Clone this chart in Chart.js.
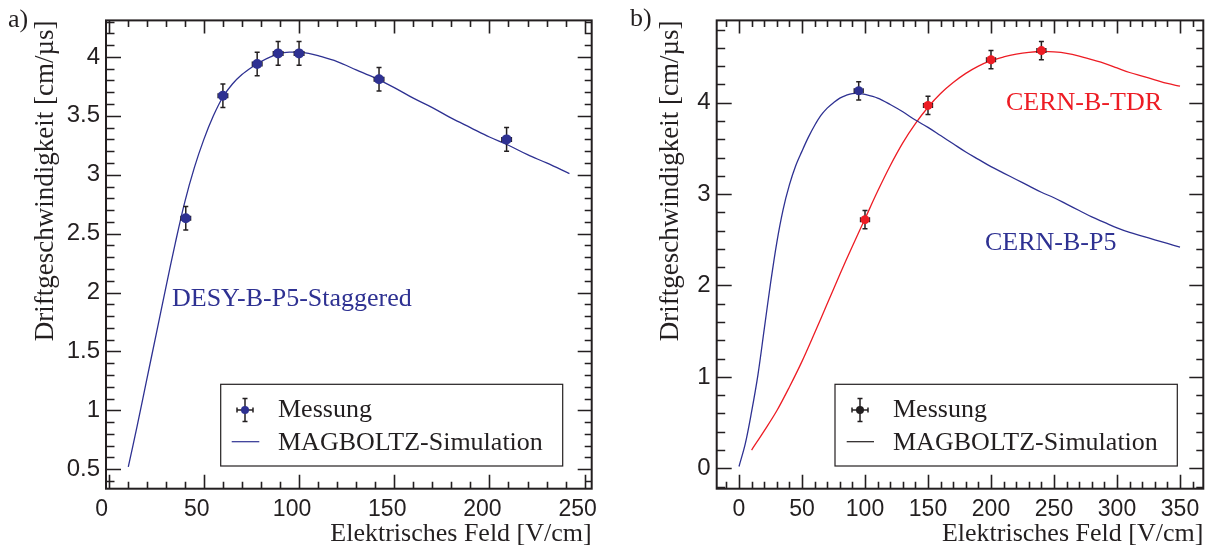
<!DOCTYPE html>
<html>
<head>
<meta charset="utf-8">
<script src="https://cdn.jsdelivr.net/npm/chart.js@4.4.1/dist/chart.umd.min.js"></script>
<style>
  html, body { margin: 0; padding: 0; background: #fff; }
  #wrap { position: relative; width: 1212px; height: 547px; }
  #wrap canvas { position: absolute; left: 0; top: 0; }
</style>
</head>
<body>
<div id="wrap">
  <canvas id="panelA" width="1212" height="547"></canvas>
  <canvas id="panelB" width="1212" height="547"></canvas>
</div>
<script>
const INK = '#231f20';
const BLUE = '#2e3192';
const RED = '#ed1c24';
const SERIF = '"Liberation Serif", "Times New Roman", serif';
const SANS = '"Liberation Sans", Arial, sans-serif';

// a) DESY-B-P5-Staggered
const desyFieldMeas = [40.5, 60, 78, 89, 100, 142, 209];
const desyDriftMeas = [2.63, 3.67, 3.94, 4.03, 4.03, 3.81, 3.30];
const desyFieldErr = [2.5, 2.5, 2.5, 2.5, 2.5, 2.5, 2.5];
const desyDriftErr = [0.1, 0.1, 0.1, 0.1, 0.1, 0.1, 0.1];
const desyFieldSim = [10.3, 15, 20, 25, 30, 35, 40, 45, 50, 55, 60, 65, 70, 75, 80, 85, 90, 95, 100,
  105, 110, 120, 130, 140, 150, 160, 170, 180, 190, 200, 210, 220, 230, 242];
const desyDriftSim = [0.52, 0.87, 1.26, 1.65, 2.04, 2.42, 2.77, 3.06, 3.30, 3.50, 3.66, 3.77, 3.85, 3.91, 3.96, 4.0, 4.03, 4.04, 4.04,
  4.03, 4.01, 3.96, 3.89, 3.82, 3.74, 3.65, 3.57, 3.48, 3.40, 3.32, 3.25, 3.17, 3.10, 3.01];

// b) CERN-B-P5 and CERN-B-TDR
const p5FieldMeas = [95];
const p5DriftMeas = [4.13];
const tdrFieldMeas = [100, 150, 200, 240];
const tdrDriftMeas = [2.72, 3.97, 4.47, 4.57];
const cernFieldErr = [3.5, 3.5, 3.5, 3.5];
const cernDriftErr = [0.1, 0.1, 0.1, 0.1];
const p5FieldSim = [0, 5, 10, 15, 20, 25, 30, 35, 40, 45, 50, 55, 60, 65, 70, 75, 80, 85, 90, 95, 100,
  110, 120, 130, 140, 150, 160, 170, 180, 190, 200, 210, 220, 230, 240, 250, 260, 270, 280, 290, 300,
  310, 320, 330, 340, 350];
const p5DriftSim = [0.02, 0.27, 0.62, 1.02, 1.52, 2.02, 2.47, 2.83, 3.10, 3.31, 3.47, 3.62, 3.75, 3.86, 3.94, 4.0, 4.05, 4.08, 4.10, 4.10, 4.09,
  4.05, 3.98, 3.90, 3.81, 3.73, 3.64, 3.55, 3.46, 3.38, 3.30, 3.23, 3.16, 3.09, 3.02, 2.96, 2.89, 2.82, 2.75, 2.69, 2.63,
  2.58, 2.54, 2.50, 2.46, 2.42];
const tdrFieldSim = [10, 20, 30, 40, 50, 60, 70, 80, 90, 100, 110, 120, 130, 140, 150, 160, 170, 180, 190, 200,
  210, 220, 230, 240, 250, 260, 270, 280, 290, 300, 310, 320, 330, 340, 350];
const tdrDriftSim = [0.2, 0.41, 0.63, 0.89, 1.17, 1.48, 1.80, 2.12, 2.43, 2.73, 3.03, 3.31, 3.56, 3.77, 3.95, 4.10, 4.22, 4.32, 4.40, 4.46,
  4.50, 4.53, 4.55, 4.56, 4.555, 4.54, 4.51, 4.47, 4.43, 4.38, 4.33, 4.29, 4.25, 4.21, 4.18];

const xy = (xs, ys) => xs.map((x, i) => ({ x, y: ys[i] }));

// error bars with small end caps, drawn just before the marker dataset
const errorBars = {
  id: 'errorBars',
  beforeDatasetDraw(chart, args) {
    const ds = chart.data.datasets[args.index];
    if (!ds.errY) return;
    const { ctx, scales: { x, y } } = chart;
    ctx.save();
    ctx.strokeStyle = INK;
    ctx.lineWidth = 1.5;
    ctx.beginPath();
    ds.data.forEach((p, i) => {
      const px = x.getPixelForValue(p.x), py = y.getPixelForValue(p.y);
      const x0 = x.getPixelForValue(p.x - ds.errX[i]), x1 = x.getPixelForValue(p.x + ds.errX[i]);
      const y0 = y.getPixelForValue(p.y - ds.errY[i]), y1 = y.getPixelForValue(p.y + ds.errY[i]);
      ctx.moveTo(x0, py); ctx.lineTo(x1, py);
      ctx.moveTo(px, y0); ctx.lineTo(px, y1);
      ctx.moveTo(px - 2.5, y0); ctx.lineTo(px + 2.5, y0);
      ctx.moveTo(px - 2.5, y1); ctx.lineTo(px + 2.5, y1);
      ctx.moveTo(x0, py - 2.5); ctx.lineTo(x0, py + 2.5);
      ctx.moveTo(x1, py - 2.5); ctx.lineTo(x1, py + 2.5);
    });
    ctx.stroke();
    ctx.restore();
  }
};

// closed frame with inward ticks on all four sides
const axisFrame = {
  id: 'axisFrame',
  afterDatasetsDraw(chart, args, o) {
    const { ctx, chartArea: a, scales: { x, y } } = chart;
    ctx.save();
    ctx.strokeStyle = INK;
    ctx.lineWidth = 1.6;
    ctx.beginPath();
    for (let k = Math.ceil(x.min / o.xMinor); k * o.xMinor <= x.max; k++) {
      const major = k % o.xEvery === 0;
      const px = Math.round(x.getPixelForValue(k * o.xMinor)) + 0.5;
      ctx.moveTo(px, a.bottom); ctx.lineTo(px, a.bottom - (major ? 14 : 7));
      ctx.moveTo(px, a.top); ctx.lineTo(px, a.top + (major ? 13 : 6.5));
    }
    for (let k = Math.ceil(y.min / o.yMinor - 1e-6); k * o.yMinor <= y.max + 1e-6; k++) {
      const major = k % o.yEvery === 0;
      const py = Math.round(y.getPixelForValue(k * o.yMinor)) + 0.5;
      ctx.moveTo(a.left, py); ctx.lineTo(a.left + (major ? 15 : 8.5), py);
      ctx.moveTo(a.right, py); ctx.lineTo(a.right - (major ? 14 : 7), py);
    }
    ctx.stroke();
    ctx.lineWidth = 2;
    ctx.strokeRect(a.left, a.top, a.right - a.left, a.bottom - a.top);
    ctx.restore();
  }
};

// panel letter, curve labels and the legend box
const panelNotes = {
  id: 'panelNotes',
  afterDraw(chart, args, o) {
    const { ctx } = chart;
    ctx.save();
    ctx.textBaseline = 'alphabetic';
    ctx.textAlign = 'left';
    o.notes.forEach(n => {
      ctx.fillStyle = n.color;
      ctx.font = `${n.size}px ${SERIF}`;
      ctx.fillText(n.text, n.x, n.y);
    });
    const L = o.legend;
    ctx.strokeStyle = INK;
    ctx.lineWidth = 1.2;
    ctx.strokeRect(L.box[0], L.box[1], L.box[2] - L.box[0], L.box[3] - L.box[1]);
    // marker sample with error bars
    const [mx, my] = L.marker;
    ctx.lineWidth = 1.5;
    ctx.beginPath();
    ctx.moveTo(mx - 8, my); ctx.lineTo(mx + 8, my);
    ctx.moveTo(mx, my - 11.5); ctx.lineTo(mx, my + 11.5);
    ctx.moveTo(mx - 2.5, my - 11.5); ctx.lineTo(mx + 2.5, my - 11.5);
    ctx.moveTo(mx - 2.5, my + 11.5); ctx.lineTo(mx + 2.5, my + 11.5);
    ctx.moveTo(mx - 8, my - 2.5); ctx.lineTo(mx - 8, my + 2.5);
    ctx.moveTo(mx + 8, my - 2.5); ctx.lineTo(mx + 8, my + 2.5);
    ctx.stroke();
    ctx.fillStyle = L.markerColor;
    ctx.beginPath();
    ctx.arc(mx, my, 4, 0, Math.PI * 2);
    ctx.fill();
    // line sample
    ctx.strokeStyle = L.lineColor;
    ctx.lineWidth = 1.2;
    ctx.beginPath();
    ctx.moveTo(L.line[0], L.line[2]); ctx.lineTo(L.line[1], L.line[2]);
    ctx.stroke();
    ctx.fillStyle = INK;
    ctx.font = `26px ${SERIF}`;
    ctx.fillText('Messung', L.textX, L.rows[0]);
    ctx.fillText('MAGBOLTZ-Simulation', L.textX, L.rows[1]);
    ctx.restore();
  }
};

function makePanel(id, p) {
  return new Chart(document.getElementById(id), {
    type: 'line',
    data: { datasets: p.datasets },
    options: {
      responsive: false,
      animation: false,
      events: [],
      layout: { padding: p.padding },
      plugins: {
        legend: { display: false },
        tooltip: { enabled: false },
        axisFrame: p.frame,
        panelNotes: { notes: p.notes, legend: p.legend }
      },
      scales: {
        x: {
          type: 'linear',
          min: p.xRange[0],
          max: p.xRange[1],
          afterFit: s => { s.height = 58.3; },
          grid: { display: false, drawTicks: false },
          border: { display: false },
          ticks: {
            stepSize: 50, includeBounds: false, autoSkip: false, maxRotation: 0,
            padding: 7, labelOffset: p.xLabelOffset,
            color: INK, font: { family: SANS, size: 23 }
          },
          title: {
            display: true, align: 'end', text: 'Elektrisches Feld [V/cm]',
            color: INK, font: { family: SERIF, size: 26 }, padding: { top: 0, bottom: -3 }
          }
        },
        y: {
          type: 'linear',
          min: p.yRange[0],
          max: p.yRange[1],
          afterFit: s => { s.width = p.yWidth; },
          grid: { display: false, drawTicks: false },
          border: { display: false },
          ticks: {
            stepSize: p.yStep, includeBounds: false, padding: 6,
            color: INK, font: { family: SANS, size: 24 },
            callback: v => String(+v.toFixed(2))
          },
          title: {
            display: true, align: 'end', text: 'Driftgeschwindigkeit [cm/µs]',
            color: INK, font: { family: SERIF, size: 27 }, padding: { top: p.yTitlePad, bottom: 0 }
          }
        }
      }
    },
    plugins: [errorBars, axisFrame, panelNotes]
  });
}

const simLine = (data, color) => ({
  data, borderColor: color, borderWidth: 1.3, pointRadius: 0,
  tension: 0.35, fill: false, order: 2
});
const measPoints = (data, color, errX, errY, r) => ({
  data, showLine: false, pointRadius: r, pointBackgroundColor: color,
  pointBorderColor: color, pointBorderWidth: 0, errX, errY, order: 0
});

makePanel('panelA', {
  padding: { left: 0, top: 20, right: 620.3, bottom: 0 },
  xRange: [-1.4, 253.7],
  yRange: [0.335, 4.31],
  yStep: 0.5,
  yWidth: 106,
  yTitlePad: 30,
  xLabelOffset: -7,
  frame: { xMinor: 10, xEvery: 5, yMinor: 0.1, yEvery: 5 },
  datasets: [
    simLine(xy(desyFieldSim, desyDriftSim), BLUE),
    measPoints(xy(desyFieldMeas, desyDriftMeas), BLUE, desyFieldErr, desyDriftErr, 5)
  ],
  notes: [
    { text: 'a)', x: 8, y: 27, color: INK, size: 26 },
    { text: 'DESY-B-P5-Staggered', x: 172, y: 306, color: BLUE, size: 26 }
  ],
  legend: {
    box: [220.7, 384.3, 562.7, 466], marker: [245, 410], markerColor: BLUE,
    line: [231.7, 259.3, 441.7], lineColor: BLUE, textX: 278, rows: [416.7, 450]
  }
});

makePanel('panelB', {
  padding: { left: 606, top: 20, right: 8.7, bottom: 0 },
  xRange: [-17.7, 368.5],
  yRange: [-0.223, 4.9],
  yStep: 1,
  yWidth: 110.7,
  yTitlePad: 49,
  xLabelOffset: 0,
  frame: { xMinor: 10, xEvery: 5, yMinor: 0.2, yEvery: 5 },
  datasets: [
    simLine(xy(p5FieldSim, p5DriftSim), BLUE),
    simLine(xy(tdrFieldSim, tdrDriftSim), RED),
    measPoints(xy(p5FieldMeas, p5DriftMeas), BLUE, cernFieldErr, cernDriftErr, 4.5),
    measPoints(xy(tdrFieldMeas, tdrDriftMeas), RED, cernFieldErr, cernDriftErr, 4.5)
  ],
  notes: [
    { text: 'b)', x: 630, y: 26, color: INK, size: 26 },
    { text: 'CERN-B-TDR', x: 1006, y: 110, color: RED, size: 26 },
    { text: 'CERN-B-P5', x: 985, y: 250, color: BLUE, size: 26 }
  ],
  legend: {
    box: [835, 384.3, 1177.3, 466], marker: [860, 410], markerColor: INK,
    line: [846.7, 874, 441.7], lineColor: INK, textX: 893, rows: [416.7, 450]
  }
});
</script>
</body>
</html>
